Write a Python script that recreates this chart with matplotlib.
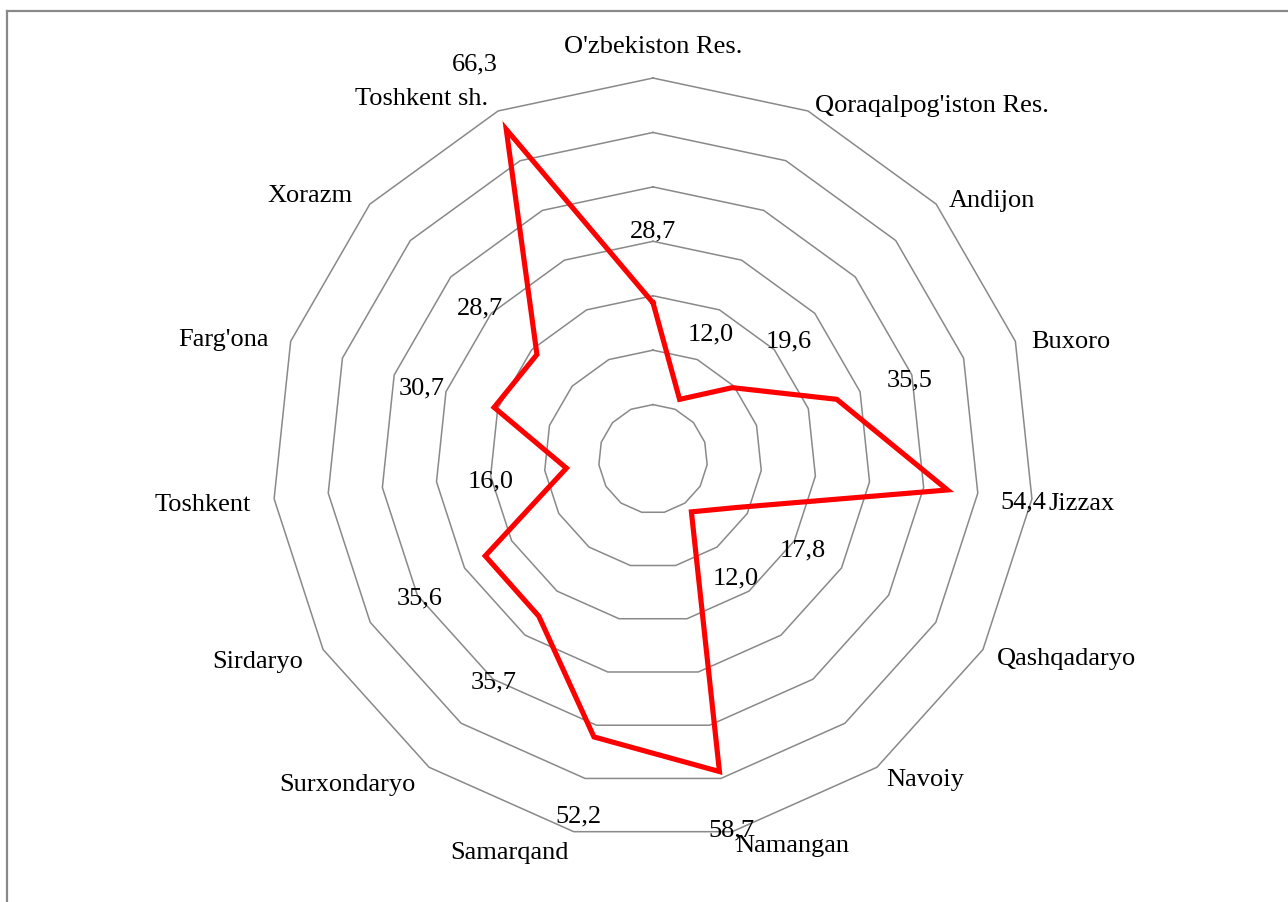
import numpy as np
import matplotlib.pyplot as plt
from matplotlib.lines import Line2D
from matplotlib.transforms import offset_copy

plt.rcParams['font.family'] = ['Liberation Serif', 'DejaVu Serif']

regions = ["O'zbekiston Res.", "Qoraqalpog'iston Res.", "Andijon", "Buxoro", "Jizzax",
           "Qashqadaryo", "Navoiy", "Namangan", "Samarqand", "Surxondaryo",
           "Sirdaryo", "Toshkent", "Farg'ona", "Xorazm", "Toshkent sh."]
values = [28.7, 12.0, 19.6, 35.5, 54.4, 17.8, 12.0, 58.7, 52.2, 35.7,
          35.6, 16.0, 30.7, 28.7, 66.3]
ring_levels = [10, 20, 30, 40, 50, 60, 70]

n = len(regions)
theta = np.linspace(0, 2 * np.pi, n, endpoint=False)
theta_c = np.append(theta, theta[0])

fig = plt.figure(figsize=(12.88, 9.02), dpi=100)
ax = fig.add_axes([0.2112, 0.0687, 0.5916, 0.8448], projection='polar')
ax.set_theta_zero_location('N')
ax.set_theta_direction(-1)
ax.set_ylim(0, 70)
ax.grid(False)
ax.spines['polar'].set_visible(False)
ax.set_xticks([])
ax.set_yticks([])
ax.patch.set_alpha(0)

# polygon grid
for lev in ring_levels:
    ax.plot(theta_c, [lev] * (n + 1), color='#898989', lw=1.1, clip_on=False, zorder=1)

# data line
vals_c = values + [values[0]]
ax.plot(theta_c, vals_c, color='#ff0000', lw=3.7, solid_joinstyle='miter', clip_on=False, zorder=3)

fs = 19
# data labels (placed a bit outside each point)
lbl_tr = offset_copy(ax.transData, fig=fig, x=0, y=-3.5, units='points')
for i, (t, v) in enumerate(zip(theta, values)):
    off = 10.2 if regions[i] == "Namangan" else 14
    ax.text(t, v + off, f"{v:.1f}".replace('.', ','), fontsize=fs,
            ha='center', va='center', zorder=4, transform=lbl_tr)

# category labels
for t, name in zip(theta, regions):
    s = np.sin(t)
    if abs(s) < 0.05:
        ha, r = 'center', 77.5
    elif s > 0:
        ha, r = 'left', 73
    else:
        ha, r = 'right', 74.3
    dy = -(4 + 6 * np.cos(t)) * 0.72
    tr = offset_copy(ax.transData, fig=fig, x=0, y=dy, units='points')
    ax.text(t, r, name, fontsize=fs, ha=ha, va='center', zorder=4, transform=tr)

# outer frame (left and top edges visible)
fig.add_artist(Line2D([6.5 / 1288, 6.5 / 1288], [0, 1 - 10.5 / 902], color='#898989', lw=1.6))
fig.add_artist(Line2D([6.5 / 1288, 1], [1 - 10.5 / 902, 1 - 10.5 / 902], color='#898989', lw=1.6))

fig.savefig('out.png', dpi=100)
